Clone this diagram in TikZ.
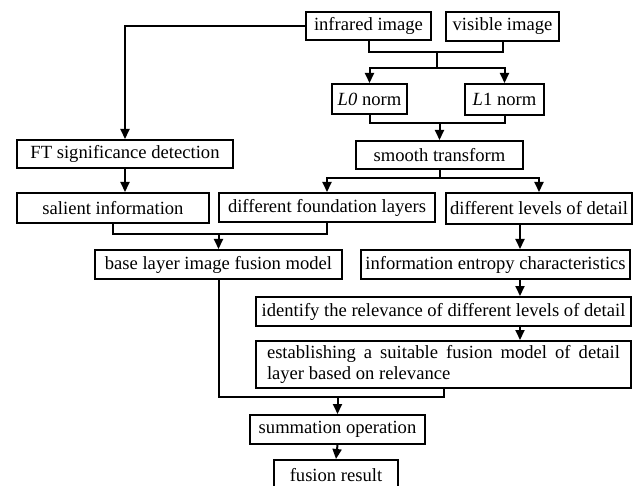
\documentclass[tikz,border=0pt]{standalone}
\usepackage{fontspec}
\setmainfont{Liberation Serif}
\usetikzlibrary{arrows.meta,calc}
\begin{document}
\begin{tikzpicture}[x=1pt,y=-1pt,
  line width=2pt,
  box/.style={draw, anchor=north west, inner sep=0pt, align=center, font=\fontsize{18.6}{21}\selectfont},
  arr/.style={-{Triangle[length=10pt,width=9pt]}}]
\useasboundingbox (0,0) rectangle (642,486);
% boxes
\node[box, minimum width=125, minimum height=28] (inf) at (305,11) {infrared image};
\node[box, minimum width=113, minimum height=29] (vis) at (445,11) {visible image};
\node[box, minimum width=75, minimum height=30] (l0) at (331,83) {\textit{L0} norm};
\node[box, minimum width=79, minimum height=31] (l1) at (464,83) {\textit{L}1 norm};
\node[box, minimum width=167, minimum height=28] (smooth) at (355,140) {smooth transform};
\node[box, minimum width=216, minimum height=28] (ft) at (16,139) {FT significance detection};
\node[box, minimum width=192, minimum height=30] (sal) at (16,192) {salient information};
\node[box, minimum width=216, minimum height=29] (found) at (218,192) {different foundation layers};
\node[box, minimum width=186, minimum height=31] (lev) at (445,192) {different levels of detail};
\node[box, minimum width=247, minimum height=29] (base) at (94,249) {base layer image fusion model};
\node[box, minimum width=269, minimum height=29] (info) at (360,249) {information entropy characteristics};
\node[box, minimum width=375, minimum height=29] (ident) at (255,296) {identify the relevance of different levels of detail};
\node[box, minimum width=375, minimum height=47, text width=353, align=justify] (estab) at (255,340) {establishing a suitable fusion model of detail layer based on relevance};
\node[box, minimum width=175, minimum height=29] (sum) at (249,414) {summation operation};
\node[box, minimum width=124, minimum height=30] (fus) at (273,459) {fusion result};
% coordinates
\coordinate (j1) at (437,52);
\coordinate (s1) at (437,68);
\coordinate (j2) at ($(smooth.north)+(0,-17)$);
\coordinate (s2) at ($(smooth.south)+(0,8)$);
\coordinate (j3) at ($(base.north)+(0,-15)$);
\coordinate (xr) at (520,0);
\coordinate (j4) at ($(sum.north)+(0,-17)$);
% connectors
\draw[arr] (inf.west) -| (ft.north);
\draw (inf.south) |- (j1) -| (vis.south);
\draw (j1) -- (s1);
\draw[arr] (s1) -| (l0.north);
\draw[arr] (s1) -| (l1.north);
\draw (l0.south) |- (j2) -| (l1.south);
\draw[arr] (j2) -- (smooth.north);
\draw (smooth.south) -- (s2);
\draw[arr] (s2) -| (found.north);
\draw[arr] (s2) -| (lev.north);
\draw[arr] (ft.south) -- (ft.south |- sal.north);
\draw (sal.south) |- (j3) -| (found.south);
\draw[arr] (j3) -- (base.north);
\draw[arr] (lev.south -| xr) -- (info.north -| xr);
\draw[arr] (info.south -| xr) -- (ident.north -| xr);
\draw[arr] (ident.south -| xr) -- (estab.north -| xr);
\draw (base.south) |- (j4) -| (estab.south);
\draw[arr] (j4) -- (sum.north);
\draw[arr] (sum.south) -- (fus.north);
\end{tikzpicture}
\end{document}
